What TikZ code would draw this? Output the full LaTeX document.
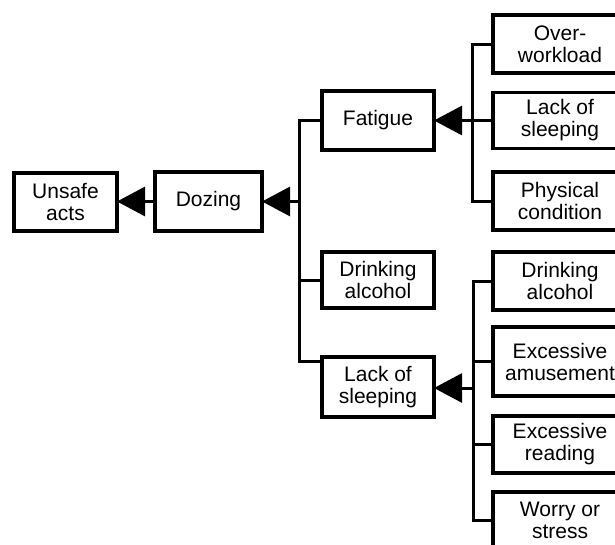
\documentclass[tikz,border=0pt]{standalone}
\usepackage{fontspec}
\setmainfont{Liberation Sans}
\usetikzlibrary{arrows.meta}
\begin{document}
\begin{tikzpicture}[x=1pt,y=-1pt,
  box/.style={draw,line width=3.2pt,align=center,inner sep=0pt,outer sep=0pt,
    font=\fontsize{21}{22}\selectfont},
  conn/.style={line width=3pt},
  arr/.style={line width=3pt,-{Triangle[length=28pt,width=29pt]}},
]
\clip (0,0) rectangle (615,544);
\fill[white] (0,0) rectangle (615,544);
% left column
\node[box,minimum width=103pt,minimum height=58pt] (ua) at (65.5,202) {Unsafe\\acts};
\node[box,minimum width=107pt,minimum height=59pt] (dz) at (208.5,201.5) {Dozing};
% middle column
\node[box,minimum width=112pt,minimum height=59pt] (fa) at (378,120.5) {Fatigue};
\node[box,minimum width=112pt,minimum height=56pt] (da1) at (378,280) {Drinking\\alcohol};
\node[box,minimum width=112pt,minimum height=60pt] (ls1) at (378,387) {Lack of\\sleeping};
% right column
\node[box,minimum width=134pt,minimum height=58pt] (ow) at (560,44) {Over-\\workload};
\node[box,minimum width=134pt,minimum height=56pt] (ls2) at (560,120.5) {Lack of\\sleeping};
\node[box,minimum width=134pt,minimum height=58pt] (pc) at (560,201) {Physical\\condition};
\node[box,minimum width=134pt,minimum height=58pt] (da2) at (560,281) {Drinking\\alcohol};
\node[box,minimum width=134pt,minimum height=69pt] (ea) at (560,361.5) {Excessive\\amusement};
\node[box,minimum width=134pt,minimum height=57pt] (er) at (560,444.5) {Excessive\\reading};
\node[box,minimum width=134pt,minimum height=56pt] (ws) at (560,520) {Worry or\\stress};
% junctions
\coordinate (jb) at (299,361);
\coordinate (fj) at (472,120.5);
\coordinate (lj) at (473,388);
% Dozing branch
\draw[conn] (fa.west) -| (jb) -- (jb -| ls1.west);
\draw[conn] (da1.west) -- (da1.west -| jb);
\draw[arr] (dz.east -| jb) -- (dz.east);
\draw[arr] (dz.west) -- (dz.west -| ua.east);
% Fatigue branch
\draw[conn] (ow.west) -| (fj) |- (pc.west);
\draw[arr] (ls2.west) -- (fa.east);
% Lack of sleeping branch
\draw[conn] (da2.west) -| (lj) |- (ws.west);
\draw[conn] (ea.west) -- (ea.west -| lj);
\draw[conn] (er.west) -- (er.west -| lj);
\draw[arr] (lj) -- (lj -| ls1.east);
\end{tikzpicture}
\end{document}
